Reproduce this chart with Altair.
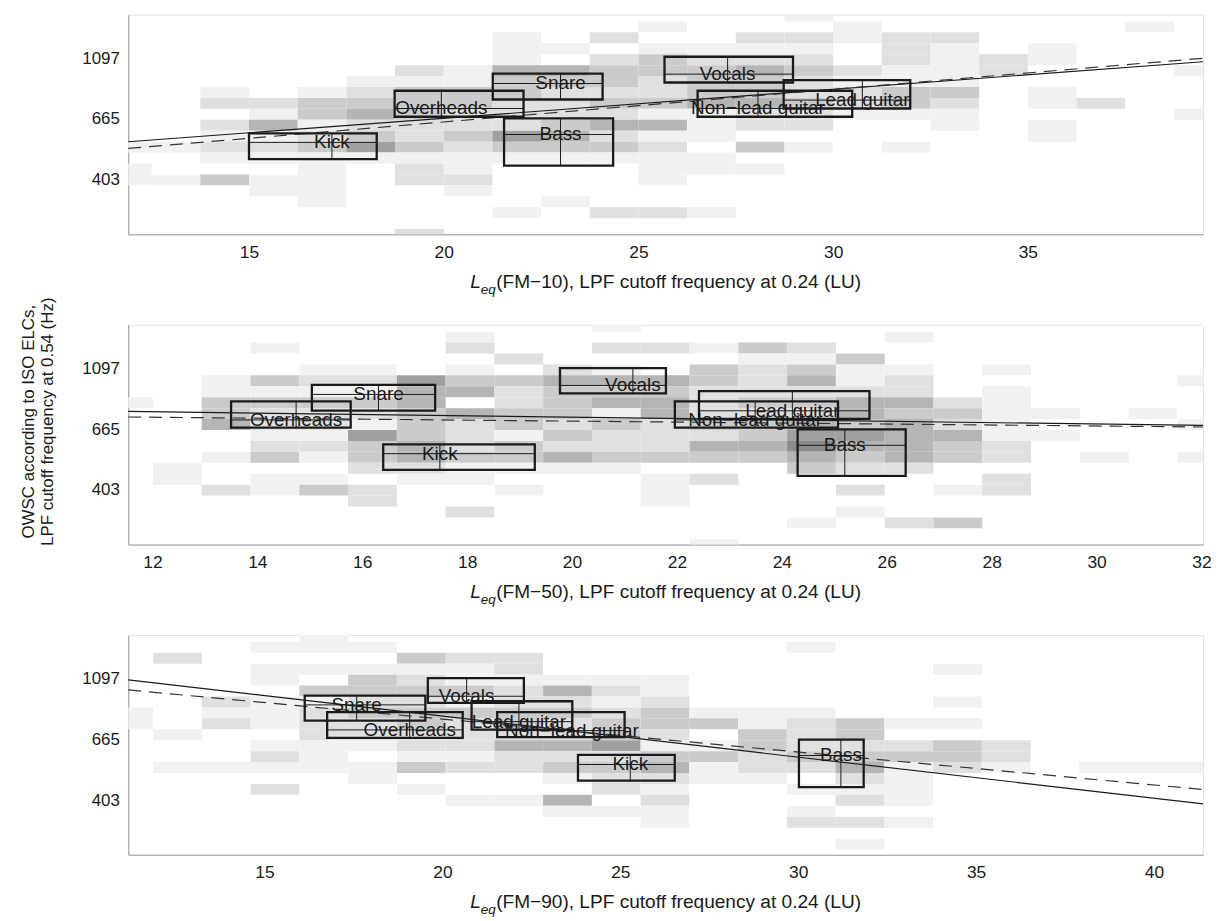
import altair as alt
import numpy as np
import pandas as pd

# ---------------------------------------------------------------------------
# Shared frequency axis (OWSC in Hz, log spaced)
# ---------------------------------------------------------------------------
Y_DOMAIN = [257.2, 1571.0]
Y_TICKS = [403, 665, 1097]

# Heat-map rows: 21 bands of 0.09 in ln(Hz), listed from the top band down
ROW_TOP_LN = 7.393
ROW_STEP_LN = 0.09

GREY_LEVELS = [1, 2, 3, 4, 5, 6]
GREY_RANGE = ["#f1f1f1", "#e0e0e0", "#cbcbcb", "#b5b5b5", "#a0a0a0", "#8c8c8c"]

INK = "#1a1a1a"
FONT = "Liberation Sans"

# ---------------------------------------------------------------------------
# FM-10
# ---------------------------------------------------------------------------
P1_TAG = "(FM\u221210), LPF cutoff frequency at 0.24 (LU)"
P1_XDOM = [11.9, 39.5]
P1_XTICKS = [15, 20, 25, 30, 35]
P1_BIN_X0 = 11.25
P1_BIN_W = 1.25
# one string per loudness bin (left to right), one digit per frequency band (top to bottom)
P1_HEAT = [
    "000000000000101100000",
    "000000000000100100000",
    "000000012021210300000",
    "000000002141210110000",
    "000000013312311111000",
    "000000123423510000000",
    "000002133322312200002",
    "000001133223211210000",
    "001114332225310000100",
    "000104322234310001000",
    "002023323242310000200",
    "010133223141211100200",
    "000123334111011000100",
    "002124334220301000000",
    "102123223220100000000",
    "011002122100000000000",
    "002221133100100000000",
    "002111132110000000000",
    "000022000000000000000",
    "000110011011000000000",
    "000000002000000000000",
    "010000000000000000000",
    "000001000100000000000",
]
P1_NAMES = ["Kick", "Overheads", "Snare", "Bass", "Vocals", "Non\u2212lead guitar", "Lead guitar"]
P1_Q1X = [15.00, 18.74, 21.26, 21.55, 25.67, 26.52, 28.73]
P1_MEDX = [17.13, 19.94, 23.00, 23.00, 27.29, 28.07, 30.75]
P1_Q3X = [18.28, 22.05, 24.08, 24.35, 28.97, 30.49, 31.98]
P1_Q1Y = [477.7, 677.2, 780.6, 452.6, 897.9, 677.2, 724.8]
P1_MEDY = [548.4, 724.8, 890.7, 585.2, 962.0, 724.8, 776.7]
P1_Q3Y = [590.5, 838.8, 966.8, 667.8, 1109.9, 838.8, 916.0]
P1_FIT_X = [11.9, 39.5]
P1_FIT_SOLID = [551.2, 1065.3]
P1_FIT_DASHED = [521.6, 1096.6]

# ---------------------------------------------------------------------------
# FM-50
# ---------------------------------------------------------------------------
P2_TAG = "(FM\u221250), LPF cutoff frequency at 0.24 (LU)"
P2_XDOM = [11.54, 32.03]
P2_XTICKS = [12, 14, 16, 18, 20, 22, 24, 26, 28, 30, 32]
P2_BIN_X0 = 11.08
P2_BIN_W = 0.93
P2_HEAT = [
    "000000010000000000000",
    "000000000000011000000",
    "000001133400100200000",
    "001003132212301100000",
    "000012132212101300000",
    "000012132153320220000",
    "000005443334421000000",
    "012013404222311002000",
    "000203223313310100000",
    "000024333232410000000",
    "102014341322310000000",
    "002004344222301110000",
    "001033222324302000001",
    "003122232334300000000",
    "002134232456430000100",
    "000311244354320201000",
    "010012243444420000200",
    "000000023243300100300",
    "000010111112202200000",
    "000000001010000000000",
    "000000000000100000000",
    "000000001000000000000",
    "000001000100100000000",
]
P2_NAMES = ["Overheads", "Snare", "Kick", "Vocals", "Non\u2212lead guitar", "Lead guitar", "Bass"]
P2_Q1X = [13.50, 15.04, 16.40, 19.77, 21.96, 22.42, 24.30]
P2_MEDX = [14.74, 16.31, 17.48, 21.16, 23.49, 24.20, 25.20]
P2_Q3X = [15.78, 17.39, 19.29, 21.79, 25.07, 25.67, 26.36]
P2_Q1Y = [673.2, 774.4, 475.3, 893.4, 673.2, 723.4, 452.6]
P2_MEDY = [717.6, 885.4, 543.5, 953.4, 717.6, 773.6, 582.3]
P2_Q3Y = [836.3, 957.2, 587.0, 1100.0, 836.3, 910.5, 663.8]
P2_FIT_X = [11.54, 32.03]
P2_FIT_SOLID = [769.7, 686.1]
P2_FIT_DASHED = [735.1, 677.2]

# ---------------------------------------------------------------------------
# FM-90
# ---------------------------------------------------------------------------
P3_TAG = "(FM\u221290), LPF cutoff frequency at 0.24 (LU)"
P3_XDOM = [11.17, 41.38]
P3_XTICKS = [15, 20, 25, 30, 35, 40]
P3_BIN_X0 = 10.5
P3_BIN_W = 1.37
P3_HEAT = [
    "000000011000000000000",
    "002000000100100000000",
    "000000212000100000000",
    "010110111012102000000",
    "110103122211100000000",
    "010133232210110000000",
    "003123233221301000000",
    "002113132221200100000",
    "002212233242200100000",
    "000014232242310410000",
    "000012123352322010000",
    "000011233213421211000",
    "000000013013110000000",
    "000000011332210000000",
    "010000012223201012000",
    "000000003323421202010",
    "000000001023111101000",
    "000100101033200000000",
    "000000000022100000000",
    "000000000000000000000",
    "000000000000100000000",
    "000000000000100000000",
    "000000000000100000000",
]
P3_NAMES = ["Snare", "Overheads", "Vocals", "Lead guitar", "Non\u2212lead guitar", "Kick", "Bass"]
P3_Q1X = [16.13, 16.76, 19.59, 20.82, 21.54, 23.81, 30.02]
P3_MEDX = [17.59, 19.08, 20.68, 22.15, 23.64, 25.28, 31.20]
P3_Q3X = [19.52, 20.57, 22.29, 23.65, 25.12, 26.53, 31.84]
P3_Q1Y = [776.7, 673.2, 897.9, 721.3, 677.2, 473.9, 449.0]
P3_MEDY = [883.6, 719.1, 948.6, 769.7, 714.8, 540.8, 582.3]
P3_Q3Y = [953.4, 832.1, 1101.1, 910.5, 832.1, 585.2, 663.8]
P3_FIT_X = [11.17, 41.38]
P3_FIT_SOLID = [1085.7, 391.1]
P3_FIT_DASHED = [999.2, 440.1]

Y_TITLE = ["OWSC according to ISO ELCs,", "LPF cutoff frequency at 0.54 (Hz)"]

W, H = 1081, 221


def heat_frame(columns, x0, w, xdom):
    """Expand the per-bin grey levels into rectangles, trimmed to the plotted range."""
    rows = []
    for j, col in enumerate(columns):
        left = max(x0 + j * w, xdom[0])
        right = min(x0 + (j + 1) * w, xdom[1])
        if right <= left:
            continue
        for t, ch in enumerate(col):
            level = int(ch)
            if level == 0:
                continue
            top = ROW_TOP_LN - ROW_STEP_LN * t
            rows.append({
                "x0": left, "x1": right,
                "f_lo": max(float(np.exp(top - ROW_STEP_LN)), Y_DOMAIN[0]),
                "f_hi": min(float(np.exp(top)), Y_DOMAIN[1]),
                "level": level,
            })
    return pd.DataFrame(rows)


def panel(tag, xdom, xticks, bin_x0, bin_w, heat, names, q1x, medx, q3x,
          q1y, medy, q3y, fit_x, fit_solid, fit_dashed, y_title=None):
    xs = alt.Scale(domain=xdom, nice=False, zero=False)
    ys = alt.Scale(type="log", domain=Y_DOMAIN, nice=False)
    x_axis = alt.Axis(values=xticks, grid=False, ticks=False, labelFontSize=17.5,
                      labelPadding=9, domainColor="#9a9a9a", labelColor=INK,
                      title=None, labelFont=FONT)
    y_kw = dict(values=Y_TICKS, format="d", grid=False, ticks=False, labelFontSize=17,
                labelPadding=9, domainColor="#9a9a9a", labelColor=INK, labelFont=FONT)
    if y_title:
        y_axis = alt.Axis(title=y_title, titleFontSize=17, titleFontWeight="normal",
                          titleColor=INK, titlePadding=25, titleLineHeight=19,
                          titleFont=FONT, titleY=97, **y_kw)
    else:
        y_axis = alt.Axis(title=None, **y_kw)

    cells = alt.Chart(heat_frame(heat, bin_x0, bin_w, xdom)).mark_rect().encode(
        x=alt.X("x0:Q", scale=xs, axis=x_axis),
        x2="x1:Q",
        y=alt.Y("f_lo:Q", scale=ys, axis=y_axis),
        y2="f_hi:Q",
        color=alt.Color("level:O", scale=alt.Scale(domain=GREY_LEVELS, range=GREY_RANGE),
                        legend=None),
    )

    fits = pd.DataFrame({
        "x": fit_x + fit_x,
        "f": fit_solid + fit_dashed,
        "fit": ["solid", "solid", "dashed", "dashed"],
    })
    solid = alt.Chart(fits).transform_filter("datum.fit == 'solid'").mark_line(
        color=INK, strokeWidth=1.2).encode(
        x=alt.X("x:Q", scale=xs), y=alt.Y("f:Q", scale=ys))
    dashed = alt.Chart(fits).transform_filter("datum.fit == 'dashed'").mark_line(
        color="#333333", strokeWidth=1.2, strokeDash=[13, 8]).encode(
        x=alt.X("x:Q", scale=xs), y=alt.Y("f:Q", scale=ys))

    boxes_df = pd.DataFrame({"name": names, "q1x": q1x, "medx": medx, "q3x": q3x,
                             "q1y": q1y, "medy": medy, "q3y": q3y})
    base = alt.Chart(boxes_df)
    frames = base.mark_rect(fillOpacity=0, stroke=INK, strokeWidth=2.3).encode(
        x=alt.X("q1x:Q", scale=xs), x2="q3x:Q",
        y=alt.Y("q1y:Q", scale=ys), y2="q3y:Q")
    vmed = base.mark_rule(color=INK, strokeWidth=1).encode(
        x=alt.X("medx:Q", scale=xs), y=alt.Y("q1y:Q", scale=ys), y2="q3y:Q")
    hmed = base.mark_rule(color=INK, strokeWidth=1).encode(
        y=alt.Y("medy:Q", scale=ys), x=alt.X("q1x:Q", scale=xs), x2="q3x:Q")
    labels = base.mark_text(fontSize=19, font=FONT, color=INK, align="center",
                            baseline="middle").encode(
        x=alt.X("medx:Q", scale=xs), y=alt.Y("medy:Q", scale=ys), text="name:N")

    # x-axis title: italic L with subscript eq, then the rest of the caption
    cap = pd.DataFrame({"s": [tag]})
    t_l = alt.Chart(cap).mark_text(text="L", fontSize=19.2, fontStyle="italic", font=FONT,
                                   color=INK, align="left", baseline="alphabetic").encode(
        x=alt.value(344), y=alt.value(H + 54))
    t_eq = alt.Chart(cap).mark_text(text="eq", fontSize=13.5, fontStyle="italic", font=FONT,
                                    color=INK, align="left", baseline="alphabetic").encode(
        x=alt.value(354.5), y=alt.value(H + 60))
    t_rest = alt.Chart(cap).mark_text(fontSize=19.2, font=FONT, color=INK, align="left",
                                      baseline="alphabetic").encode(
        x=alt.value(370), y=alt.value(H + 54), text="s:N")

    return alt.layer(cells, solid, dashed, frames, vmed, hmed, labels,
                     t_l, t_eq, t_rest).properties(width=W, height=H)


p1 = panel(P1_TAG, P1_XDOM, P1_XTICKS, P1_BIN_X0, P1_BIN_W, P1_HEAT, P1_NAMES,
           P1_Q1X, P1_MEDX, P1_Q3X, P1_Q1Y, P1_MEDY, P1_Q3Y,
           P1_FIT_X, P1_FIT_SOLID, P1_FIT_DASHED)
p2 = panel(P2_TAG, P2_XDOM, P2_XTICKS, P2_BIN_X0, P2_BIN_W, P2_HEAT, P2_NAMES,
           P2_Q1X, P2_MEDX, P2_Q3X, P2_Q1Y, P2_MEDY, P2_Q3Y,
           P2_FIT_X, P2_FIT_SOLID, P2_FIT_DASHED, y_title=Y_TITLE)
p3 = panel(P3_TAG, P3_XDOM, P3_XTICKS, P3_BIN_X0, P3_BIN_W, P3_HEAT, P3_NAMES,
           P3_Q1X, P3_MEDX, P3_Q3X, P3_Q1Y, P3_MEDY, P3_Q3Y,
           P3_FIT_X, P3_FIT_SOLID, P3_FIT_DASHED)

chart = alt.vconcat(p1, p2, p3, spacing=91, bounds="flush").properties(
    padding={"left": 19, "top": 11, "right": 8, "bottom": 5},
    background="white",
).configure_view(stroke="#e4e4e4", strokeWidth=1)

chart.save("out.html", embed_options={"renderer": "svg", "actions": False})
